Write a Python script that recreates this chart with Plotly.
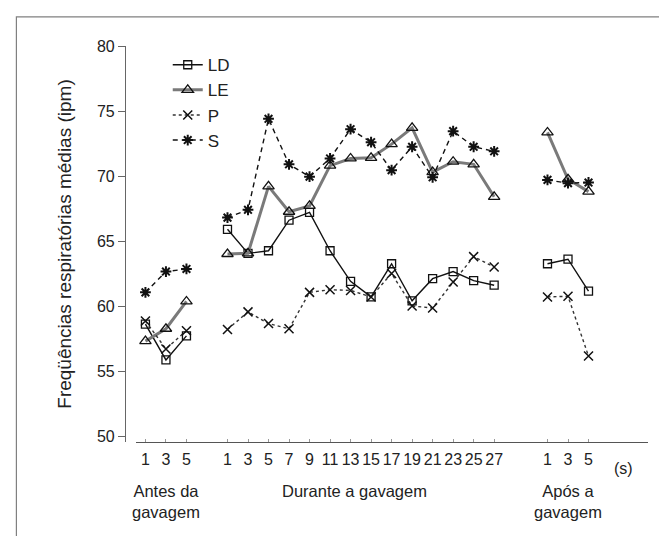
import plotly.graph_objects as go

# ---- data ----
tick_text = ["1", "3", "5",
             "1", "3", "5", "7", "9", "11", "13", "15", "17", "19", "21", "23", "25", "27",
             "1", "3", "5"]
x_pos = [0, 1, 2,
         4, 5, 6, 7, 8, 9, 10, 11, 12, 13, 14, 15, 16, 17,
         19.6, 20.6, 21.6]
group_labels = ["Antes da<br>gavagem", "Durante a gavagem", "Após a<br>gavagem"]
group_centers = [1, 10.2, 20.6]

LD = [58.6, 55.85, 57.7,
      65.9, 64.05, 64.25, 66.6, 67.2, 64.25, 61.9, 60.7, 63.25, 60.4, 62.1, 62.65, 61.95, 61.6,
      63.25, 63.6, 61.15]
LE = [57.3, 58.25, 60.35,
      64.0, 64.05, 69.2, 67.25, 67.7, 70.8, 71.35, 71.4, 72.45, 73.7, 70.3, 71.1, 70.9, 68.4,
      73.35, 69.75, 68.8]
P = [58.85, 56.7, 58.1,
     58.2, 59.55, 58.65, 58.25, 61.05, 61.25, 61.2, 60.7, 62.5, 60.0, 59.85, 61.85, 63.8, 63.0,
     60.7, 60.75, 56.15]
S = [61.05, 62.65, 62.85,
     66.8, 67.4, 74.4, 70.9, 69.95, 71.35, 73.6, 72.6, 70.45, 72.25, 69.9, 73.45, 72.25, 71.9,
     69.7, 69.45, 69.5]

segments = [(0, 3), (3, 17), (17, 20)]

FONT = "Liberation Sans, Arial, sans-serif"
fig = go.Figure()

styles = {
    "LD": dict(line=dict(color="#111111", width=1.4),
               marker=dict(symbol="square-open", size=8, color="#111111", line=dict(width=1.3))),
    "LE": dict(line=dict(color="#7a7a7a", width=3),
               marker=dict(symbol="triangle-up-open", size=10, color="#111111", line=dict(width=1.3))),
    "P": dict(line=dict(color="#333333", width=1.4, dash="dot"),
              marker=dict(symbol="x-thin-open", size=9, color="#111111", line=dict(width=1.5))),
    "S": dict(line=dict(color="#111111", width=1.4, dash="5px,4px"),
              marker=dict(symbol="asterisk-open", size=9, color="#111111", line=dict(width=2))),
}
series = {"LD": LD, "LE": LE, "P": P, "S": S}

for name, vals in series.items():
    for k, (a, b) in enumerate(segments):
        fig.add_trace(go.Scatter(
            x=x_pos[a:b], y=vals[a:b], mode="lines+markers", name=name,
            legendgroup=name, showlegend=(k == 0), **styles[name]))

for txt, cx in zip(group_labels, group_centers):
    fig.add_annotation(x=cx, xref="x", y=-0.097, yref="paper", text=txt,
                       showarrow=False, yanchor="top",
                       font=dict(family=FONT, size=16.5, color="#222"))
fig.add_annotation(x=23.3, xref="x", y=-0.04, yref="paper", text="(s)",
                   showarrow=False, yanchor="top",
                   font=dict(family=FONT, size=16, color="#222"))

# outer frame
fig.add_shape(type="rect", xref="paper", yref="paper",
              x0=-0.2336, x1=1.039, y0=-0.28, y1=1.0733,
              line=dict(color="#808080", width=1.2), fillcolor="rgba(0,0,0,0)", layer="below")

fig.update_layout(
    width=667, height=536,
    margin=dict(l=128, r=27, t=38, b=102),
    paper_bgcolor="white", plot_bgcolor="white",
    font=dict(family=FONT, size=16, color="#222"),
    legend=dict(x=0.062, y=0.997, xanchor="left", yanchor="top",
                bgcolor="rgba(0,0,0,0)", font=dict(size=17), tracegroupgap=0,
                itemwidth=30),
    xaxis=dict(range=[-0.46, 24.5], tickmode="array", tickvals=x_pos, ticktext=tick_text,
               showgrid=False, zeroline=False, showline=True, linecolor="#555", linewidth=1.2,
               ticks="inside", ticklen=3, tickcolor="#999", ticklabelstandoff=3,
               tickfont=dict(size=16)),
    yaxis=dict(range=[49.54, 80], tickvals=[50, 55, 60, 65, 70, 75, 80],
               showgrid=False, zeroline=False, showline=True, linecolor="#666", linewidth=1.2,
               ticks="outside", ticklen=7, tickcolor="#666", anchor="free", position=0, shift=-11,
               tickfont=dict(size=16),
               title=dict(text="Freqüências respiratórias médias (ipm)", standoff=19,
                          font=dict(size=19))),
)

fig.write_html("out.html")
